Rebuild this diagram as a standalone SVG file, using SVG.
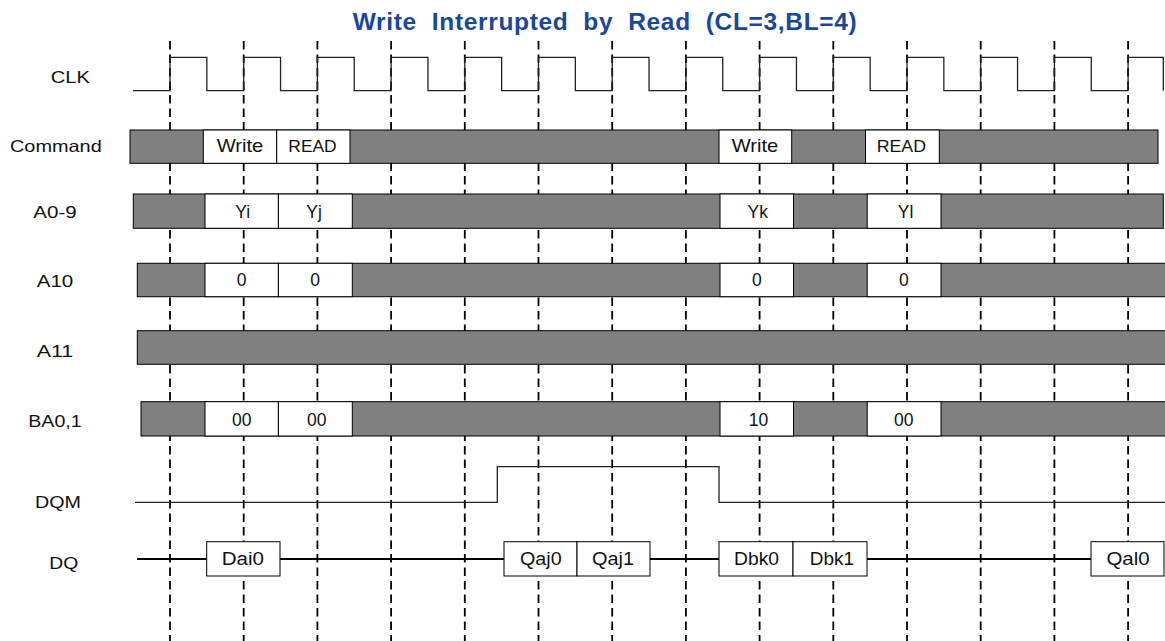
<svg xmlns="http://www.w3.org/2000/svg" width="1165" height="641" viewBox="0 0 1165 641">
<style>
.bg{fill:#fff}
.grid line{stroke:#000;stroke-width:1.8;stroke-dasharray:8.5 5}
.bar{fill:#808080;stroke:#000;stroke-width:1}
.box{fill:#fff;stroke:#000;stroke-width:1}
.lbl{font-family:"Liberation Sans",Arial,sans-serif;font-size:16.5px;fill:#111}
.t{font-family:"Liberation Sans",Arial,sans-serif;font-size:17.5px;fill:#111;text-anchor:middle}
.sig{fill:none;stroke:#222;stroke-width:1.3}
.title{font-family:"Liberation Sans",Arial,sans-serif;font-size:24.5px;font-weight:bold;fill:#1a479e}
</style>
<rect class="bg" x="0" y="0" width="1165" height="641"/>
<text class="title" x="352.7" y="30" xml:space="preserve" textLength="504" lengthAdjust="spacing">Write  Interrupted  by  Read  (CL=3,BL=4)</text>

<g id="gridlines" class="grid">
<line x1="170" y1="41" x2="170" y2="641"/>
<line x1="243.7" y1="41" x2="243.7" y2="641"/>
<line x1="317.4" y1="41" x2="317.4" y2="641"/>
<line x1="391.1" y1="41" x2="391.1" y2="641"/>
<line x1="464.8" y1="41" x2="464.8" y2="641"/>
<line x1="538.5" y1="41" x2="538.5" y2="641"/>
<line x1="612.2" y1="41" x2="612.2" y2="641"/>
<line x1="685.9" y1="41" x2="685.9" y2="641"/>
<line x1="759.6" y1="41" x2="759.6" y2="641"/>
<line x1="833.3" y1="41" x2="833.3" y2="641"/>
<line x1="907" y1="41" x2="907" y2="641"/>
<line x1="980.7" y1="41" x2="980.7" y2="641"/>
<line x1="1054.4" y1="41" x2="1054.4" y2="641"/>
<line x1="1128.1" y1="41" x2="1128.1" y2="641"/>
</g>

<g id="clk">
<text class="lbl" x="50.7" y="83.3" textLength="39.3" lengthAdjust="spacingAndGlyphs">CLK</text>
<path class="sig" d="M133,90.7 H170 V57.3 H206.85 V90.7 H243.7 V57.3 H280.55 V90.7 H317.4 V57.3 H354.25 V90.7 H391.1 V57.3 H427.95 V90.7 H464.8 V57.3 H501.65 V90.7 H538.5 V57.3 H575.35 V90.7 H612.2 V57.3 H649.05 V90.7 H685.9 V57.3 H722.75 V90.7 H759.6 V57.3 H796.45 V90.7 H833.3 V57.3 H870.15 V90.7 H907 V57.3 H943.85 V90.7 H980.7 V57.3 H1017.55 V90.7 H1054.4 V57.3 H1091.25 V90.7 H1128.1 V57.3 H1163.3 V90.7"/>
</g>

<g id="command">
<text class="lbl" x="10" y="151.7" textLength="91.7" lengthAdjust="spacingAndGlyphs">Command</text>
<rect class="bar" x="130" y="130" width="1028" height="33.3"/>
<rect class="box" x="203.3" y="130" width="73.4" height="33.3"/>
<rect class="box" x="276.7" y="130" width="73.3" height="33.3"/>
<rect class="box" x="719" y="130" width="72.7" height="33.3"/>
<rect class="box" x="865.5" y="130" width="73.8" height="33.3"/>
<text class="t" x="240" y="152" style="font-size:18.5px" textLength="46.7" lengthAdjust="spacingAndGlyphs">Write</text>
<text class="t" x="312.5" y="151.7" style="font-size:16px" textLength="48.3" lengthAdjust="spacingAndGlyphs">READ</text>
<text class="t" x="755" y="152" style="font-size:18.5px" textLength="46.7" lengthAdjust="spacingAndGlyphs">Write</text>
<text class="t" x="901.3" y="151.7" style="font-size:16px" textLength="49.3" lengthAdjust="spacingAndGlyphs">READ</text>
</g>

<g id="a0-9">
<text class="lbl" x="33.3" y="218.3" textLength="43.4" lengthAdjust="spacingAndGlyphs">A0-9</text>
<rect class="bar" x="133.3" y="194" width="1030" height="34.3"/>
<rect class="box" x="205" y="194" width="73.4" height="34.3"/>
<rect class="box" x="278.4" y="194" width="73.9" height="34.3"/>
<rect class="box" x="720" y="194" width="73.5" height="34.3"/>
<rect class="box" x="867.2" y="194" width="73.8" height="34.3"/>
<text class="t" x="242.8" y="217.7">Yi</text>
<text class="t" x="314" y="217.7">Yj</text>
<text class="t" x="757.7" y="217.7">Yk</text>
<text class="t" x="905.6" y="217.7">Yl</text>
</g>

<g id="a10">
<text class="lbl" x="36.7" y="287.3" textLength="36.6" lengthAdjust="spacingAndGlyphs">A10</text>
<rect class="bar" x="137.3" y="263.3" width="1030" height="33.4"/>
<rect class="box" x="205" y="263.3" width="73.4" height="33.4"/>
<rect class="box" x="278.4" y="263.3" width="73.9" height="33.4"/>
<rect class="box" x="720" y="263.3" width="73.5" height="33.4"/>
<rect class="box" x="867.2" y="263.3" width="73.8" height="33.4"/>
<text class="t" x="241.7" y="286">0</text>
<text class="t" x="315" y="286">0</text>
<text class="t" x="756.8" y="286">0</text>
<text class="t" x="903.8" y="286">0</text>
</g>

<g id="a11">
<text class="lbl" x="36.7" y="356.7" textLength="36.6" lengthAdjust="spacingAndGlyphs">A11</text>
<rect class="bar" x="137.3" y="330.7" width="1030" height="33.6"/>
</g>

<g id="ba0-1">
<text class="lbl" x="28.3" y="426.7" textLength="53.4" lengthAdjust="spacingAndGlyphs">BA0,1</text>
<rect class="bar" x="141" y="401.7" width="1030" height="34.3"/>
<rect class="box" x="205" y="401.7" width="73.4" height="34.3"/>
<rect class="box" x="278.4" y="401.7" width="73.9" height="34.3"/>
<rect class="box" x="720" y="401.7" width="73.5" height="34.3"/>
<rect class="box" x="867.2" y="401.7" width="73.8" height="34.3"/>
<text class="t" x="241.7" y="425.7">00</text>
<text class="t" x="316.7" y="425.7">00</text>
<text class="t" x="758.6" y="425.7">10</text>
<text class="t" x="903.8" y="425.7">00</text>
</g>

<g id="dqm">
<text class="lbl" x="35" y="508.3" textLength="46" lengthAdjust="spacingAndGlyphs">DQM</text>
<path class="sig" d="M135,502.3 H497.3 V466.7 H719 V502.3 H1165"/>
</g>

<g id="dq">
<text class="lbl" x="49.3" y="569" textLength="29" lengthAdjust="spacingAndGlyphs">DQ</text>
<line x1="137" y1="559" x2="1091" y2="559" stroke="#000" stroke-width="1.8"/>
<rect class="box" x="206.7" y="541.7" width="73.3" height="34.3"/>
<rect class="box" x="504" y="541.7" width="73" height="34.3"/>
<rect class="box" x="577" y="541.7" width="73" height="34.3"/>
<rect class="box" x="719" y="541.7" width="74" height="34.3"/>
<rect class="box" x="793" y="541.7" width="74" height="34.3"/>
<rect class="box" x="1091" y="541.7" width="73" height="34.3"/>
<text class="t" x="242.8" y="565" textLength="42.3" lengthAdjust="spacingAndGlyphs">Dai0</text>
<text class="t" x="540.8" y="565" textLength="41.7" lengthAdjust="spacingAndGlyphs">Qaj0</text>
<text class="t" x="613" y="565" textLength="42" lengthAdjust="spacingAndGlyphs">Qaj1</text>
<text class="t" x="756.5" y="565" textLength="45" lengthAdjust="spacingAndGlyphs">Dbk0</text>
<text class="t" x="831.9" y="565" textLength="44.3" lengthAdjust="spacingAndGlyphs">Dbk1</text>
<text class="t" x="1128" y="565" textLength="43.2" lengthAdjust="spacingAndGlyphs">Qal0</text>
</g>
</svg>
